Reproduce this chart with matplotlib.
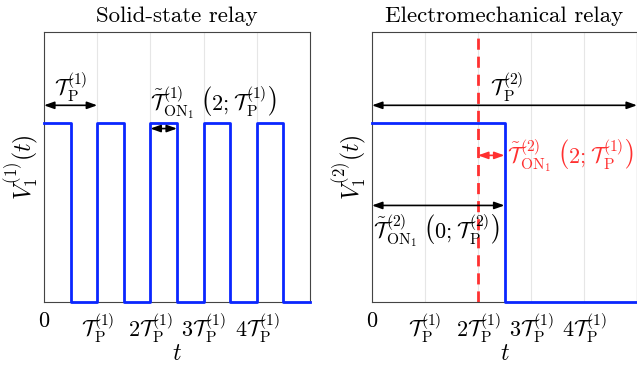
import matplotlib
matplotlib.use("Agg")
import matplotlib.pyplot as plt
import numpy as np

plt.rcParams['mathtext.fontset'] = 'cm'
plt.rcParams['font.family'] = 'cmr10'
plt.rcParams['axes.formatter.use_mathtext'] = True

# data
period = 1.0
t_ssr = [0, 0.5, 0.5, 1, 1, 1.5, 1.5, 2, 2, 2.5, 2.5, 3, 3, 3.5, 3.5, 4, 4, 4.5, 4.5, 5]
v_ssr = [1, 1, 0, 0, 1, 1, 0, 0, 1, 1, 0, 0, 1, 1, 0, 0, 1, 1, 0, 0]
t_emr = [0, 2.5, 2.5, 5]
v_emr = [1, 1, 0, 0]
tick_pos = [0, 1, 2, 3, 4]
tick_labels = ['$0$', r'$\mathcal{T}_{\mathrm{P}}^{(1)}$', r'$2\mathcal{T}_{\mathrm{P}}^{(1)}$',
               r'$3\mathcal{T}_{\mathrm{P}}^{(1)}$', r'$4\mathcal{T}_{\mathrm{P}}^{(1)}$']
switch_time = 2.0

fig = plt.figure(figsize=(6.37, 3.65), dpi=100)
ax1 = fig.add_axes([44/637, 63/365, 266/637, 270/365])
ax2 = fig.add_axes([372/637, 63/365, 265/637, 270/365])

blue = '#0a26ff'
red = '#ff3030'
FS = 16
for ax in (ax1, ax2):
    ax.set_xlim(0, 5)
    ax.set_ylim(0, 1.51)
    ax.set_xticks(tick_pos)
    ax.set_xticklabels(tick_labels, fontsize=FS)
    ax.set_yticks([])
    ax.grid(axis='x', color='#e6e6e6', lw=0.8)
    ax.set_axisbelow(True)
    ax.tick_params(axis='x', direction='in', length=0, pad=7)
    for s in ax.spines.values():
        s.set_color('#444444')
        s.set_linewidth(0.8)
    ax.set_xlabel('$t$', fontsize=17, labelpad=-2)

ax1.plot(t_ssr, v_ssr, color=blue, lw=2, clip_on=False, zorder=3)
ax2.plot(t_emr, v_emr, color=blue, lw=2, clip_on=False, zorder=3)

ax1.set_title('Solid-state relay', fontsize=16.5, pad=7)
ax2.set_title('Electromechanical relay', fontsize=16.5, pad=7)
ax1.set_ylabel(r'$V_1^{(1)}(t)$', fontsize=17, labelpad=2)
ax2.set_ylabel(r'$V_1^{(2)}(t)$', fontsize=17, labelpad=2)

arr = dict(arrowstyle='<|-|>,head_length=0.5,head_width=0.18', color='black', lw=1.2,
           mutation_scale=12, shrinkA=0, shrinkB=0)
# left annotations
ax1.annotate('', xy=(0, 1.1), xytext=(period, 1.1), arrowprops=arr)
ax1.text(0.5, 1.11, r'$\mathcal{T}_{\mathrm{P}}^{(1)}$', ha='center', va='bottom', fontsize=FS)
ax1.annotate('', xy=(2, 0.97), xytext=(2.5, 0.97), arrowprops=arr)
ax1.text(3.18, 1.01, r'$\tilde{\mathcal{T}}_{\mathrm{ON}_1}^{(1)}\;\left(2;\mathcal{T}_{\mathrm{P}}^{(1)}\right)$',
         ha='center', va='bottom', fontsize=FS)

# right annotations
ax2.axvline(switch_time, color=red, lw=2, ls=(0, (4, 2.5)), zorder=2)
ax2.annotate('', xy=(0, 1.1), xytext=(5, 1.1), arrowprops=arr, annotation_clip=False)
ax2.text(2.55, 1.11, r'$\mathcal{T}_{\mathrm{P}}^{(2)}$', ha='center', va='bottom', fontsize=FS)
arr_r = dict(arr, color=red)
ax2.annotate('', xy=(2, 0.82), xytext=(2.5, 0.82), arrowprops=arr_r)
ax2.text(2.55, 0.82, r'$\tilde{\mathcal{T}}_{\mathrm{ON}_1}^{(2)}\;\left(2;\mathcal{T}_{\mathrm{P}}^{(1)}\right)$',
         ha='left', va='center', fontsize=FS, color=red)
ax2.annotate('', xy=(0, 0.54), xytext=(2.5, 0.54), arrowprops=arr)
ax2.text(0.02, 0.4, r'$\tilde{\mathcal{T}}_{\mathrm{ON}_1}^{(2)}\;\left(0;\mathcal{T}_{\mathrm{P}}^{(2)}\right)$',
         ha='left', va='center', fontsize=FS)

fig.savefig('out.png', dpi=100)
